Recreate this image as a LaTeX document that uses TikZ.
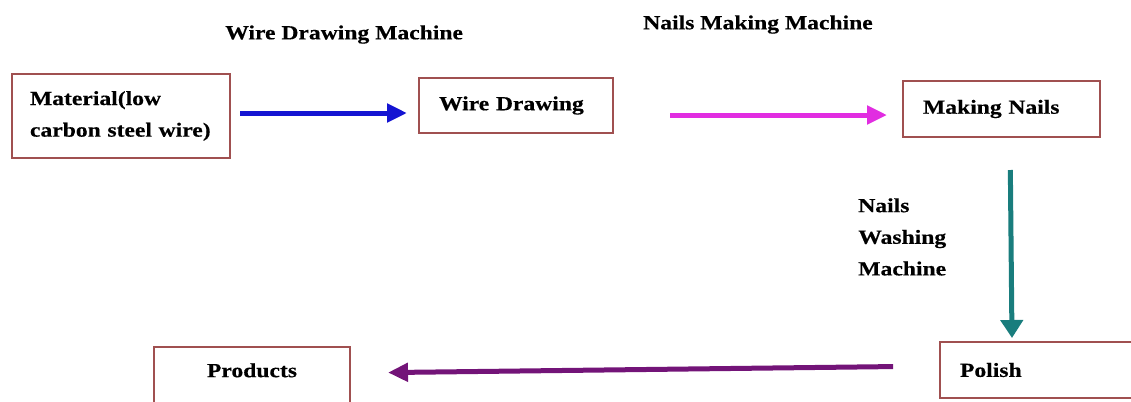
\documentclass[tikz,border=0pt]{standalone}
\usepackage{fontspec}
\setmainfont{Liberation Serif}[FakeStretch=1.18, BoldFeatures={FakeBold=0.4}]
\usepackage{tikz}
\usetikzlibrary{positioning,arrows.meta}

\definecolor{boxred}{RGB}{160,80,80}
\definecolor{wireblue}{RGB}{20,20,210}
\definecolor{nailpink}{RGB}{225,45,225}
\definecolor{washteal}{RGB}{25,125,125}
\definecolor{polishpurple}{RGB}{115,20,120}

\begin{document}
\begin{tikzpicture}[
  x=0.25mm, y=-0.25mm,
  every node/.style={font=\fontsize{5mm}{7.9mm}\selectfont\bfseries},
  box/.style={draw=boxred, line width=0.5mm, align=left, inner xsep=5mm, inner ysep=0pt, outer sep=0pt},
  lbl/.style={inner sep=0pt, align=left},
  arr/.style={-{Triangle[length=5mm, width=4.5mm]}, line width=1.25mm}
]
\path[use as bounding box, clip] (0,0) rectangle (1131,401);

% Row 1: material, wire drawing, nails
\node[box, anchor=north west, text width=45.5mm, inner xsep=4.5mm, minimum height=21mm] (mat) at (12,74) {Material(low\\carbon steel wire)};
\node[box, below right=1mm and 47.25mm of mat.north east, text width=38.5mm, minimum height=13.75mm] (wd) {Wire Drawing};
\node[box, below right=0.75mm and 72.5mm of wd.north east, text width=39.25mm, minimum height=14mm] (mn) {Making Nails};

% Row 2: polish and products
\node[box, below right=51.25mm and 9.25mm of mn.south west, text width=38.75mm, minimum height=14mm] (po) {Polish};
\node[box, below left=1.25mm and 147.5mm of po.north west, text width=39mm, align=center, minimum height=15mm, text depth=3.4mm] (pr) {Products};

% Machine labels
\node[lbl, above right=7.5mm and 26mm of mat.north] (wdm) {Wire Drawing Machine};
\node[lbl, above right=11mm and 7.5mm of wd.north east] (nmm) {Nails Making Machine};
\node[lbl, below=15.25mm of mn.south west, anchor=north west, xshift=-11.25mm] (nwm) {Nails\\Washing\\Machine};

% Connections
\draw[arr, wireblue, shorten <=2.5mm, shorten >=3mm] ([yshift=0.75mm]mat.east) -- ([yshift=0.75mm]mat.east -| wd.west);
\draw[arr, nailpink, shorten <=14.25mm, shorten >=4mm] ([yshift=-2.375mm]wd.east) -- ([yshift=-2.375mm]wd.east -| mn.west);
\draw[arr, washteal, shorten <=8.25mm, shorten >=1mm, -{Triangle[length=4.5mm, width=5.5mm]}] ([xshift=2.125mm]mn.south) -- ([xshift=2.625mm]mn.south |- po.north);
\draw[arr, polishpurple, shorten <=11.75mm, shorten >=9.5mm] ([yshift=1mm]po.west) -- ([yshift=-0.75mm]po.west -| pr.east);
\end{tikzpicture}
\end{document}
